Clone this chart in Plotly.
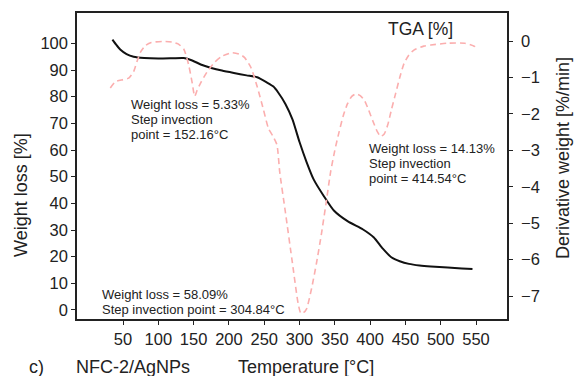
import plotly.graph_objects as go

# Thermogravimetric curve: temperature [°C] vs remaining weight [%]
tga_temp = [35, 40, 46, 55, 65, 80, 100, 120, 136, 148, 160, 175, 190, 207, 225,
            240, 254, 263, 270, 280, 290, 300, 310, 320, 335, 349, 368, 390, 405,
            418, 430, 442, 455, 470, 486, 510, 530, 545]
tga_weight = [101.4, 99.6, 97.7, 96.0, 95.0, 94.5, 94.3, 94.4, 94.5, 93.6, 92.1,
              90.8, 89.8, 88.9, 88.0, 87.3, 85.3, 83.8, 81.5, 77.3, 71.5, 63.0,
              55.5, 49.0, 42.5, 37.2, 33.3, 30.2, 27.3, 23.0, 19.8, 18.3, 17.3,
              16.7, 16.3, 15.9, 15.6, 15.4]

# Derivative curve: temperature [°C] vs derivative weight [%/min]
dtg_temp = [32, 39, 50, 58, 65, 70, 75, 82, 90, 107, 120, 128, 136, 143, 148,
            151.5, 155, 160, 169, 180, 190, 204, 215, 222, 231, 240, 249, 256,
            262, 268, 272, 280, 290, 298, 302, 306, 310, 317, 324, 331, 338, 344,
            350, 356, 362, 368, 374, 380, 386, 392, 398, 404, 410, 415, 420, 425,
            430, 436, 442, 448, 455, 462, 476, 486, 510, 534, 548, 550]
dtg_value = [-1.29, -1.12, -1.06, -1.02, -0.84, -0.55, -0.30, -0.12, -0.04, -0.01,
             -0.03, -0.08, -0.22, -0.66, -1.15, -1.52, -1.35, -1.15, -0.85, -0.58,
             -0.42, -0.32, -0.36, -0.45, -0.72, -1.25, -1.89, -2.40, -2.60, -2.85,
             -3.60, -4.70, -6.10, -7.20, -7.48, -7.45, -7.35, -6.80, -6.10, -5.30,
             -4.40, -3.60, -3.00, -2.50, -2.05, -1.72, -1.52, -1.45, -1.50, -1.63,
             -1.90, -2.20, -2.48, -2.62, -2.55, -2.30, -1.90, -1.45, -1.00, -0.62,
             -0.38, -0.25, -0.14, -0.11, -0.06, -0.06, -0.15, -0.20]

temp_ticks = [50, 100, 150, 200, 250, 300, 350, 400, 450, 500, 550]
weight_ticks = [0, 10, 20, 30, 40, 50, 60, 70, 80, 90, 100]
dtg_ticks = [-7, -6, -5, -4, -3, -2, -1, 0]

FONT = "Liberation Sans, Arial, Helvetica, sans-serif"
INK = "#222222"

W, H = 576, 376
ML, MR, MT, MB = 77, 69, 13, 57
PW, PH = W - ML - MR, H - MT - MB


def px(x):
    return (x - ML) / PW


def py(y):
    return (H - MB - y) / PH


fig = go.Figure()

fig.add_trace(go.Scatter(
    x=dtg_temp, y=dtg_value, yaxis="y2", mode="lines",
    line=dict(color="#fbaeae", width=1.6, dash="6px,4px", shape="spline", smoothing=0.6),
    hoverinfo="skip", showlegend=False,
))
fig.add_trace(go.Scatter(
    x=tga_temp, y=tga_weight, mode="lines",
    line=dict(color="#111111", width=2, shape="spline", smoothing=0.6),
    hoverinfo="skip", showlegend=False,
))

axis_common = dict(
    showgrid=False, zeroline=False, showline=True, linecolor=INK, linewidth=1.5,
    ticks="outside", ticklen=4, tickwidth=1.2, tickcolor=INK,
    tickfont=dict(family=FONT, size=16.5, color=INK),
)

fig.update_layout(
    width=W, height=H,
    margin=dict(l=ML, r=MR, t=MT, b=MB, pad=0),
    paper_bgcolor="white", plot_bgcolor="white",
    font=dict(family=FONT, color=INK),
    xaxis=dict(range=[-15.2, 593.9], tickvals=temp_ticks, mirror=True, **axis_common),
    yaxis=dict(range=[-3.38, 111.4], tickvals=weight_ticks, **axis_common),
    yaxis2=dict(range=[-7.63, 0.769], tickvals=dtg_ticks, overlaying="y", side="right",
                ticklabelstandoff=5, **axis_common),
)

notes = []


def note(text, x, y, size=13, xanchor="left", angle=0):
    notes.append(dict(
        text=text, x=px(x), y=py(y), xref="paper", yref="paper",
        xanchor=xanchor, yanchor="middle", showarrow=False, textangle=angle,
        borderpad=0, font=dict(family=FONT, size=size, color=INK),
    ))


# step annotations, one line each
note("Weight loss = 5.33%", 130, 104)
note("Step invection", 130, 119)
note("point = 152.16°C", 130, 134)

note("Weight loss = 14.13%", 368, 148)
note("Step invection", 368, 163)
note("point = 414.54°C", 368, 178)

note("Weight loss = 58.09%", 101, 294)
note("Step invection point = 304.84°C", 101, 309)

note("TGA [%]", 420, 29, size=17.5, xanchor="center")

# axis titles and panel caption
note("Weight loss [%]", 21, 195, size=18, xanchor="center", angle=-90)
note("Derivative weight [%/min]", 563, 158, size=18, xanchor="center", angle=-90)
note("c)", 28, 367, size=18)
note("NFC-2/AgNPs", 75, 367, size=18)
note("Temperature [°C]", 237, 367, size=18)

fig.update_layout(annotations=notes)

fig.write_html("out.html")
